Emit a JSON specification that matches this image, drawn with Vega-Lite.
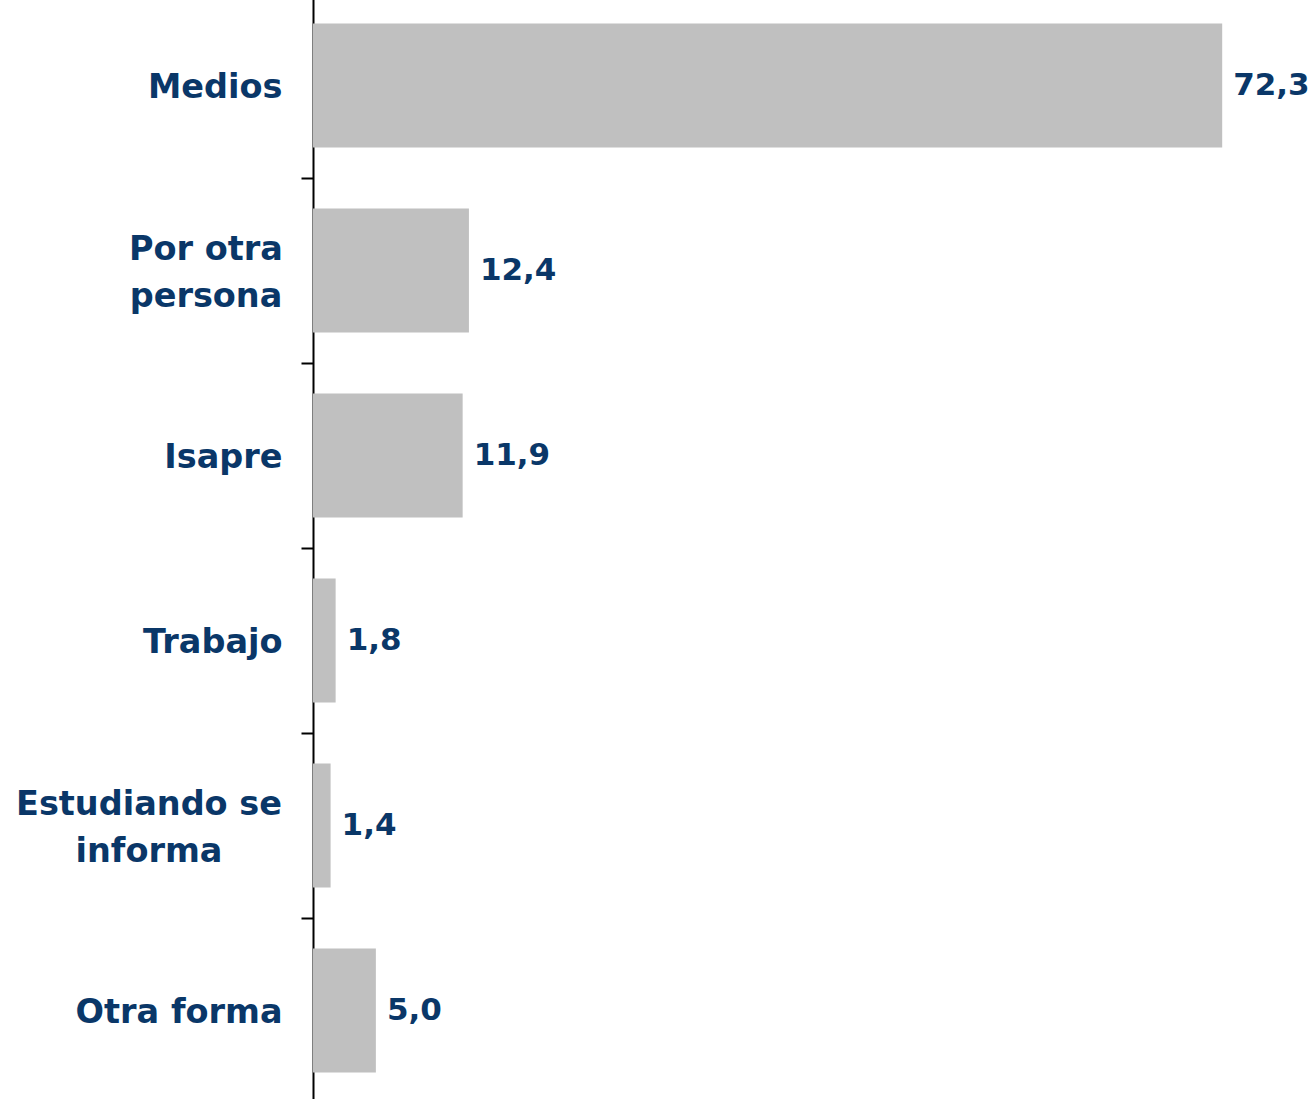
{
  "$schema": "https://vega.github.io/schema/vega-lite/v6.json",
  "autosize": {"type": "none"},
  "padding": {"left": 313, "top": -7, "right": 0, "bottom": 0},
  "width": 1001,
  "height": 1110,
  "background": "white",
  "config": {
    "view": {"stroke": null},
    "locale": {"number": {"decimal": ",", "thousands": ".", "grouping": [3], "currency": ["$", ""]}}
  },
  "data": {"values": [
    {"categoria": "Medios", "valor": 72.3},
    {"categoria": "Por otra persona", "valor": 12.4},
    {"categoria": "Isapre", "valor": 11.9},
    {"categoria": "Trabajo", "valor": 1.8},
    {"categoria": "Estudiando se informa", "valor": 1.4},
    {"categoria": "Otra forma", "valor": 5.0}
  ]},
  "encoding": {
    "y": {
      "field": "categoria", "type": "nominal", "sort": null,
      "scale": {"paddingInner": 0.33, "paddingOuter": 0.165},
      "axis": {
        "title": null,
        "domainColor": "#000000", "domainWidth": 2,
        "tickColor": "#000000", "tickWidth": 2, "tickSize": 12,
        "bandPosition": 1, "tickExtra": false, "tickOffset": 30.5,
        "labelFont": "DejaVu Sans", "labelFontWeight": "bold", "labelFontSize": 33.5,
        "labelColor": "#0a3768", "labelLineHeight": 47,
        "labelExpr": "datum.value == 'Por otra persona' ? ['Por otra', 'persona'] : datum.value == 'Estudiando se informa' ? ['Estudiando se', 'informa'] : datum.value",
        "labelAlign": {"condition": {"test": "datum.value == 'Estudiando se informa' || datum.value == 'Por otra persona'", "value": "center"}, "value": "right"},
        "labelPadding": {"condition": [
          {"test": "datum.value == 'Estudiando se informa'", "value": 152.5},
          {"test": "datum.value == 'Por otra persona'", "value": 95.5}
        ], "value": 19},
        "labelOffset": {"condition": {"test": "datum.value == 'Estudiando se informa' || datum.value == 'Por otra persona'", "value": -52}, "value": -29},
        "labelLimit": 400
      }
    }
  },
  "layer": [
    {
      "mark": {"type": "bar", "color": "#c0c0c0"},
      "encoding": {
        "x": {"field": "valor", "type": "quantitative", "scale": {"domain": [0, 79.6], "nice": false}, "axis": null}
      }
    },
    {
      "mark": {"type": "text", "align": "left", "baseline": "middle", "dx": 11, "font": "DejaVu Sans", "fontWeight": "bold", "fontSize": 31, "color": "#0a3768"},
      "encoding": {
        "x": {"field": "valor", "type": "quantitative"},
        "text": {"field": "valor", "type": "quantitative", "format": ".1f"}
      }
    }
  ]
}
